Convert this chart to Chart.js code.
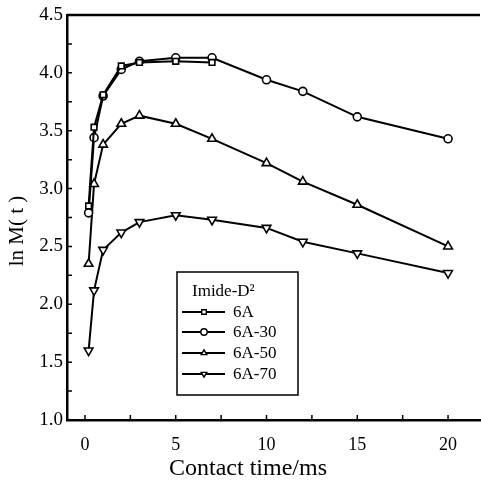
<!DOCTYPE html>
<html><head><meta charset="utf-8">
<script src="https://cdn.jsdelivr.net/npm/chart.js@4.4.1/dist/chart.umd.min.js"></script>
<style>html,body{margin:0;padding:0;background:#fff;}#wrap{width:481px;height:482px;}</style>
</head><body><div id="wrap"><canvas id="c" width="481" height="482"></canvas></div>
<script>
// ---- data ----
const seriesNames = ['6A', '6A-30', '6A-50', '6A-70'];
const legendTitle = 'Imide-D\u00B2';
const time6A = [0.2, 0.5, 1, 2, 3, 5, 7];
const timeLong = [0.2, 0.5, 1, 2, 3, 5, 7, 10, 12, 15, 20];
const lnM_6A   = [2.85, 3.53, 3.81, 4.06, 4.09, 4.10, 4.09];
const lnM_6A30 = [2.79, 3.44, 3.80, 4.03, 4.10, 4.13, 4.13, 3.94, 3.84, 3.62, 3.43];
const lnM_6A50 = [2.35, 3.04, 3.38, 3.56, 3.63, 3.56, 3.43, 3.22, 3.06, 2.86, 2.50];
const lnM_6A70 = [1.60, 2.12, 2.47, 2.62, 2.71, 2.77, 2.73, 2.66, 2.54, 2.44, 2.27];
const xTickValues = [0, 5, 10, 15, 20];
const yTickValues = [1.0, 1.5, 2.0, 2.5, 3.0, 3.5, 4.0, 4.5];
const xMinorTickValues = [0, 2.5, 5, 7.5, 10, 12.5, 15, 17.5, 20];
const yMinorTickValues = [1.25, 1.5, 1.75, 2.0, 2.25, 2.5, 2.75, 3.0, 3.25, 3.5, 3.75, 4.0, 4.25];
const xTitle = 'Contact time/ms';
const yTitle = 'ln M( t )';

const pts = (xs, ys) => xs.map((x, i) => ({x: x, y: ys[i]}));
const FONT = "'Liberation Serif', 'Times New Roman', serif";

const base = {
  borderColor: '#000', backgroundColor: '#fff', borderWidth: 2,
  pointBorderColor: '#000', pointBackgroundColor: '#fff', pointBorderWidth: 1.6,
  pointRadius: 4, showLine: true, tension: 0
};
const styles = [
  {pointStyle: 'rect', pointRadius: 4, pointRotation: 0},
  {pointStyle: 'circle', pointRadius: 4, pointRotation: 0},
  {pointStyle: 'triangle', pointRadius: 5, pointRotation: 0},
  {pointStyle: 'triangle', pointRadius: 5, pointRotation: 180}
];
const seriesData = [pts(time6A, lnM_6A), pts(timeLong, lnM_6A30), pts(timeLong, lnM_6A50), pts(timeLong, lnM_6A70)];
const datasets = seriesNames.map((n, i) => Object.assign({label: n, data: seriesData[i]}, base, styles[i]));

const decor = {
  id: 'decor',
  afterDraw(chart) {
    const ctx = chart.ctx, a = chart.chartArea;
    const xs = chart.scales.x, ys = chart.scales.y;
    ctx.save();
    ctx.strokeStyle = '#000';
    // top frame
    ctx.lineWidth = 2.5;
    ctx.beginPath(); ctx.moveTo(a.left, a.top); ctx.lineTo(a.right, a.top); ctx.stroke();
    // inward ticks
    ctx.lineWidth = 1.5;
    ctx.beginPath();
    xMinorTickValues.forEach(v => { const p = xs.getPixelForValue(v); ctx.moveTo(p, a.bottom); ctx.lineTo(p, a.bottom - 5); });
    yMinorTickValues.forEach(v => { const p = ys.getPixelForValue(v); ctx.moveTo(a.left, p); ctx.lineTo(a.left + 5, p); });
    ctx.stroke();
    // axis titles
    ctx.fillStyle = '#000';
    ctx.textBaseline = 'middle';
    ctx.textAlign = 'center';
    ctx.font = '24px ' + FONT;
    ctx.fillText(xTitle, 248, 469);
    ctx.save();
    ctx.translate(17, 231);
    ctx.rotate(-Math.PI / 2);
    ctx.font = '21px ' + FONT;
    ctx.fillText(yTitle, 0, 0);
    ctx.restore();
    // legend
    const L = 177, T = 272, R = 298, B = 395;
    ctx.lineWidth = 1.5;
    ctx.strokeRect(L, T, R - L, B - T);
    ctx.textAlign = 'left';
    ctx.font = '17px ' + FONT;
    ctx.fillText(legendTitle, 192, 292);
    const rows = [312, 332, 353, 374];
    chart.data.datasets.forEach((ds, i) => {
      const y = rows[i];
      ctx.lineWidth = 2;
      ctx.strokeStyle = '#000';
      ctx.beginPath(); ctx.moveTo(182, y); ctx.lineTo(225, y); ctx.stroke();
      ctx.lineWidth = 1.4;
      ctx.fillStyle = '#fff';
      Chart.helpers.drawPoint(ctx, {pointStyle: ds.pointStyle, rotation: ds.pointRotation, radius: 3.2, borderWidth: 1.4}, 204, y);
      ctx.fillStyle = '#000';
      ctx.fillText(ds.label, 233, y + 1);
    });
    ctx.restore();
  }
};

new Chart(document.getElementById('c'), {
  type: 'scatter',
  data: {datasets},
  options: {
    responsive: false, devicePixelRatio: 1, animation: false,
    layout: {padding: {top: 15, right: 1, left: 0, bottom: 0}},
    plugins: {legend: {display: false}, tooltip: {enabled: false}},
    scales: {
      x: {
        type: 'linear', min: -0.99, max: 21.76,
        afterFit: s => { s.height = 62; s.paddingLeft = 0; s.paddingRight = 0; },
        afterBuildTicks: s => { s.ticks = xTickValues.map(v => ({value: v})); },
        grid: {display: true, drawOnChartArea: false, drawTicks: false},
        border: {display: true, color: '#000', width: 2.5},
        ticks: {color: '#000', font: {family: FONT, size: 18}, padding: 14, callback: v => String(v)},
        title: {display: false}
      },
      y: {
        type: 'linear', min: 1, max: 4.5,
        afterFit: s => { s.width = 67; s.paddingTop = 0; s.paddingBottom = 0; s.paddingLeft = 0; s.paddingRight = 0; },
        afterBuildTicks: s => { s.ticks = yTickValues.map(v => ({value: v})); },
        grid: {display: true, drawOnChartArea: false, drawTicks: false},
        border: {display: true, color: '#000', width: 2.5},
        ticks: {color: '#000', font: {family: FONT, size: 19}, padding: 4, callback: v => Number(v).toFixed(1)},
        title: {display: false}
      }
    }
  },
  plugins: [decor, {
    id: 'areaFix',
    afterLayout(chart) {
      // ensure plot area spans to the right edge of the canvas like the reference frame
      const a = chart.chartArea, want = chart.width - 1;
      if (Math.abs(a.right - want) > 0.5) {
        const xs = chart.scales.x;
        a.right = want; a.width = a.right - a.left;
        xs.right = want; xs.width = xs.right - xs.left;
        xs.configure();
      }
    }
  }]
});
</script></body></html>
